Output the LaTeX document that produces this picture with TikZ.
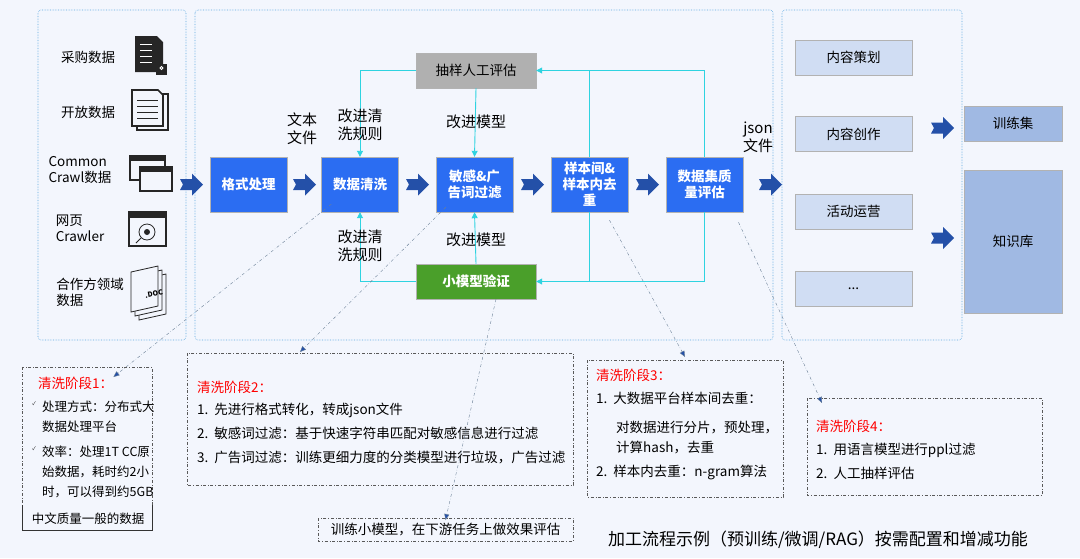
\documentclass[tikz,border=0pt]{standalone}
\usepackage{fontspec}
\setmainfont{Noto Sans CJK SC}
\usetikzlibrary{arrows.meta,positioning}
\definecolor{bg}{HTML}{F3F6FD}
\definecolor{pblue}{HTML}{2B6DF2}
\definecolor{darr}{HTML}{2450A8}
\definecolor{cyanl}{HTML}{2ED3E0}
\definecolor{frame}{HTML}{5AA8E0}
\definecolor{lbox}{HTML}{D0DDF3}
\definecolor{mbox}{HTML}{A0B9E3}
\definecolor{gbox}{HTML}{B0B0B0}
\definecolor{grbox}{HTML}{4A9F2A}
\definecolor{ptr}{HTML}{6A7F96}
% fat block arrow, centred at (#1,#2)
\newcommand{\fatarrow}[2]{\fill[darr] (#1-11,#2-5.5) -- (#1+1,#2-5.5) -- (#1+1,#2-11) -- (#1+12,#2)
  -- (#1+1,#2+11) -- (#1+1,#2+5.5) -- (#1-11,#2+5.5) -- (#1-8,#2) -- cycle;}
\tikzset{
  fs/.style={font=\fontsize{13.5}{16}\selectfont},
  proc/.style={draw=gray!60,fill=pblue,text=white,minimum width=77pt,minimum height=55pt,
    align=center,font=\fontsize{13.5}{16}\selectfont\bfseries,inner sep=1pt},
  sidebox/.style={draw=gray!60,fill=lbox,minimum width=117pt,minimum height=35pt,fs},
  outbox/.style={draw=gray!60,fill=mbox,minimum width=98pt,fs},
  panel/.style={draw=frame,densely dotted,semithick,rounded corners=3pt},
  stage/.style={draw=gray!70!black,dash dot,semithick},
  fb/.style={cyanl,line width=0.9pt,-{Triangle[length=6pt,width=6pt]}},
  fbl/.style={cyanl,line width=0.9pt},
  pointer/.style={ptr,dash dot,-{Triangle[length=6pt,width=5pt,fill=darr]}},
  lab/.style={font=\fontsize{15}{18}\selectfont,align=center,inner sep=0pt},
  txt/.style={font=\fontsize{13.5}{24}\selectfont,align=left,anchor=north west,inner sep=0pt},
}
\begin{document}
\begin{tikzpicture}[x=1pt,y=-1pt]
\fill[bg] (0,0) rectangle (1080,558);
\useasboundingbox (0,0) rectangle (1080,558);
% panels
\draw[panel] (38,10) rectangle (186,340);
\draw[panel] (195,10) rectangle (773,340);
\draw[panel] (782,10) rectangle (962,340);

% sources
\node[lab,fs] (s1) at (88,57) {采购数据};
\node[lab,fs] (s2) at (88,112) {开放数据};
\node[lab,fs,align=left] (s3) at (80,170) {Common\\Crawl数据};
\node[lab,fs,align=left] (s4) at (80,228) {网页\\Crawler};
\node[lab,fs,align=left] (s5) at (90,292) {合作方领域\\数据};
% icons
\fill[black!85] (135,36) -- (157,36) -- (163,42) -- (163,72) -- (135,72) -- cycle;
\foreach \y in {44,50,56,62} \draw[white,thick] (140,\y) -- (152,\y);
\fill[black!85] (156,64) rectangle (167,75);
\draw[white,thick] (161.5,68) circle (1.5);
\draw[black!85,line width=1.6pt] (137,94) rectangle (168,130);
\draw[black!85,line width=1.6pt,fill=bg] (132,90) -- (158,90) -- (163,95) -- (163,126) -- (132,126) -- cycle;
\foreach \y in {100,106,112,118} \draw[black!85,thick] (137,\y) -- (158,\y);
\draw[black!85,line width=1.6pt,fill=bg] (130,156) rectangle (165,180);
\fill[black!85] (130,156) rectangle (165,161);
\draw[black!85,line width=1.6pt,fill=bg] (140,167) rectangle (172,191);
\fill[black!85] (140,167) rectangle (172,172);
\draw[black!85,line width=1.4pt,fill=bg] (129,212) rectangle (166,246);
\fill[black!85] (129,212) rectangle (166,218);
\draw[black!85,thick] (147,232) circle (8);
\fill[black!85] (147,232) circle (3);
\draw[black!85,thick] (141,238) -- (136,243);
\foreach \d in {8,4,0} \draw[black!85,thick,fill=bg] (131+\d,272+\d) -- (158+\d,266+\d) -- (158+\d,306+\d) -- (131+\d,312+\d) -- cycle;
\node[font=\bfseries\itshape\fontsize{7}{8}\selectfont,rotate=10] at (154,294) {.DOC};

% steps
\node[proc] (p1) at (248.5,184.5) {格式处理};
\node[proc] (p2) at (360,184.5) {数据清洗};
\node[proc] (p3) at (474.5,184.5) {敏感\&广\\告词过滤};
\node[proc] (p4) at (589.5,184.5) {样本间\&\\样本内去\\重};
\node[proc] (p5) at (704.5,184.5) {数据集质\\量评估};
\node[draw=gray!60,fill=gbox,minimum width=120pt,minimum height=35pt,fs] (eval) at (476,70.5) {抽样人工评估};
\node[draw=gray!60,fill=grbox,text=white,minimum width=120pt,minimum height=35pt,font=\fontsize{13.5}{16}\selectfont\bfseries] (small) at (476,281.5) {小模型验证};
% big arrows
\fatarrow{191}{184.5}
\fatarrow{304}{184.5}
\fatarrow{417}{184.5}
\fatarrow{532}{184.5}
\fatarrow{647}{184.5}
\fatarrow{770}{184.5}
\fatarrow{942}{128}
\fatarrow{942}{238}

% feedback loops
\draw[fb] (eval.west) -| (p2.north);
\draw[fb] (eval.south) -- (p3.north);
\draw[fb] (p5.north) |- (eval.east);
\draw[fbl] (p4.north) -- (p4.north |- eval.east);
\draw[fb] (small.west) -| (p2.south);
\draw[fb] (small.north) -- (p3.south);
\draw[fb] (p5.south) |- (small.east);
\draw[fbl] (p4.south) -- (p4.south |- small.east);
\node[lab] (t1) at (302,129) {文本\\文件};
\node[lab] (t2) at (360,125) {改进清\\洗规则};
\node[lab] (t3) at (476,122) {改进模型};
\node[lab] (t4) at (360,246) {改进清\\洗规则};
\node[lab] (t5) at (476,240) {改进模型};
\node[lab] (t6) at (758,137) {json\\文件};

% outputs
\node[sidebox] (o1) at (853.5,57.5) {内容策划};
\node[sidebox] (o2) at (853.5,134) {内容创作};
\node[sidebox] (o3) at (853.5,211.5) {活动运营};
\node[sidebox] (o4) at (853.5,289) {...};
\node[outbox,minimum height=35pt] (o5) at (1013,123.5) {训练集};
\node[outbox,minimum height=143pt] (o6) at (1013,241.5) {知识库};

% stage notes
\draw[stage] (22,367) -- (22,505) (152,505) -- (152,367) -- (22,367);
\draw[black!80,semithick] (22,505) -- (22,530) -- (152,530) -- (152,505);
\node[txt,text=red] (n1) at (38,377) {清洗阶段1：};
\node[txt,font=\fontsize{12.5}{20}\selectfont] (n1b) at (42,401) {处理方式：分布式大\\数据处理平台};
\node[txt,font=\fontsize{12.5}{20}\selectfont] (n1c) at (42,446) {效率：处理1T CC原\\始数据，耗时约2小\\时，可以得到约5GB};
\node[font=\fontsize{12.5}{14}\selectfont] (n1d) at (88,519) {中文质量一般的数据};
\node[font=\tiny] at (34,404) {✓};
\node[font=\tiny] at (34,449) {✓};
\draw[stage] (187,353) rectangle (573,485);
\node[txt,text=red] (n2) at (197,381) {清洗阶段2：};
\node[txt] (n2b) at (197,403) {1.\ \ 先进行格式转化，转成json文件\\2.\ \ 敏感词过滤：基于快速字符串匹配对敏感信息进行过滤\\3.\ \ 广告词过滤：训练更细力度的分类模型进行垃圾，广告过滤};
\draw[stage] (587,360) rectangle (783,497);
\node[txt,text=red] (n3) at (596,369) {清洗阶段3：};
\node[txt] (n3b) at (596,392) {1.\ \ 大数据平台样本间去重：};
\node[txt,font=\fontsize{13.5}{20}\selectfont] (n3c) at (616,421) {对数据进行分片，预处理，\\计算hash，去重};
\node[txt] (n3d) at (596,465) {2.\ \ 样本内去重：n-gram算法};
\draw[stage] (807,398) rectangle (1042,495);
\node[txt,text=red] (n4) at (816,420) {清洗阶段4：};
\node[txt] (n4b) at (816,443) {1.\ \ 用语言模型进行ppl过滤\\2.\ \ 人工抽样评估};
\draw[stage] (318,518) rectangle (573,541);
\node[fs] (n5) at (445.5,530) {训练小模型，在下游任务上做效果评估};
\node[font=\fontsize{17}{18}\selectfont] (cap) at (818,540) {加工流程示例（预训练/微调/RAG）按需配置和增减功能};

% pointers
\draw[pointer] (p2.south west) ++(10,-8) -- (n1.north east);
\draw[pointer] (p3.south west) ++(10,-5) -- (300,352);
\draw[pointer] (small.south) ++(20,0) -- (n5.north);
\draw[pointer] (p4.south) ++(20,8) -- (685,357);
\draw[pointer] (p5.south) ++(34,10) -- (822,403);
\end{tikzpicture}
\end{document}
